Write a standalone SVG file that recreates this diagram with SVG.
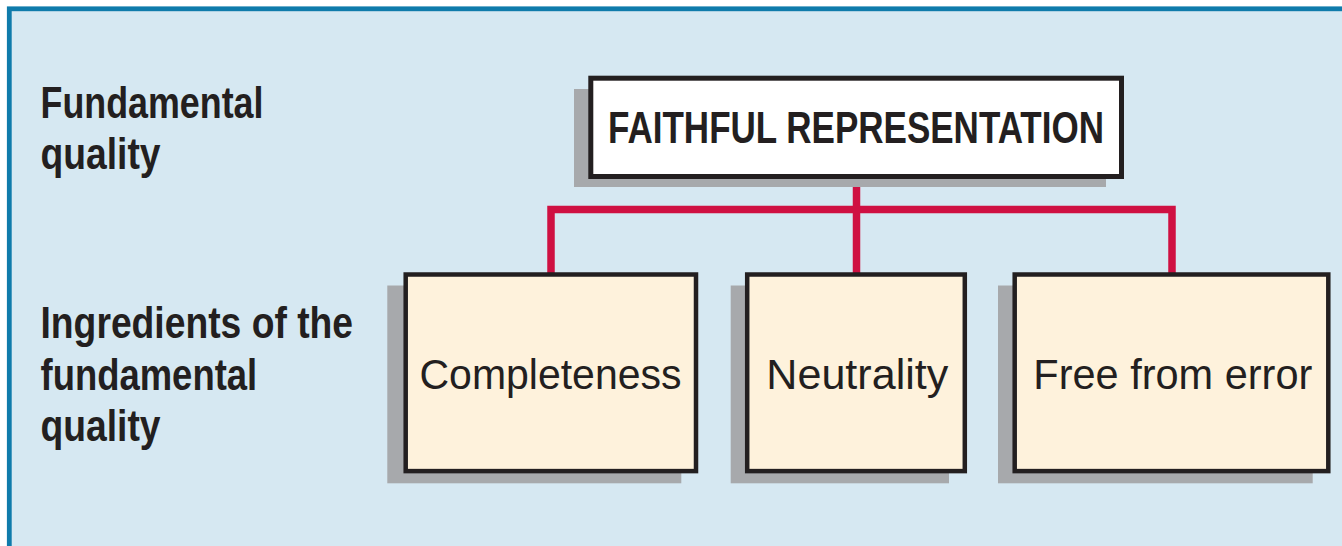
<svg xmlns="http://www.w3.org/2000/svg" width="1342" height="546" viewBox="0 0 1342 546">
  <style>
    .shadow { fill: #a7a9ac; }
    .box { fill: #fef2dc; stroke: #231f20; stroke-width: 4.5; }
    .topbox { fill: #ffffff; stroke: #231f20; stroke-width: 5; }
    .head { font-family: "Liberation Sans", Arial, sans-serif; font-weight: bold; font-size: 44px; fill: #231f20; }
    .lbl { font-family: "Liberation Sans", Arial, sans-serif; font-size: 43px; fill: #231f20; text-anchor: middle; }
    .conn { fill: none; stroke: #cf1042; stroke-width: 7.5; }
  </style>
  <rect x="0" y="0" width="1342" height="546" fill="#ffffff"/>
  <rect id="frame" x="9.3" y="8.8" width="1345" height="550" fill="#d6e8f2" stroke="#0f7bab" stroke-width="4.8"/>

  <g id="side-labels">
    <text class="head" x="40.5" y="118.3" textLength="223" lengthAdjust="spacingAndGlyphs">Fundamental</text>
    <text class="head" x="40.5" y="168.5" textLength="120" lengthAdjust="spacingAndGlyphs">quality</text>
    <text class="head" x="40.5" y="338.3" textLength="312.6" lengthAdjust="spacingAndGlyphs">Ingredients of the</text>
    <text class="head" x="40.5" y="389.5" textLength="216.7" lengthAdjust="spacingAndGlyphs">fundamental</text>
    <text class="head" x="40.5" y="441" textLength="120" lengthAdjust="spacingAndGlyphs">quality</text>
  </g>

  <g id="connectors">
    <path class="conn" d="M551 276 V209.5 H1172 V276"/>
    <path class="conn" d="M856.5 176 V276"/>
  </g>

  <g id="faithful-representation">
    <rect class="shadow" x="574" y="89" width="532" height="98"/>
    <rect class="topbox" x="590.8" y="78.2" width="530.7" height="98.3"/>
    <text class="head" x="856" y="143.3" text-anchor="middle" textLength="496" lengthAdjust="spacingAndGlyphs">FAITHFUL REPRESENTATION</text>
  </g>

  <g id="completeness">
    <rect class="shadow" x="387.3" y="285.5" width="294" height="197.8"/>
    <rect class="box" x="405.7" y="274.5" width="290.3" height="196.6"/>
    <text class="lbl" x="550.5" y="389" textLength="262" lengthAdjust="spacingAndGlyphs">Completeness</text>
  </g>

  <g id="neutrality">
    <rect class="shadow" x="730.7" y="285.5" width="218.3" height="197.8"/>
    <rect class="box" x="747.2" y="274.5" width="217.6" height="196.6"/>
    <text class="lbl" x="857.3" y="389" textLength="182" lengthAdjust="spacingAndGlyphs">Neutrality</text>
  </g>

  <g id="free-from-error">
    <rect class="shadow" x="998" y="285.5" width="314.7" height="197.8"/>
    <rect class="box" x="1014.7" y="274.5" width="313.6" height="196.6"/>
    <text class="lbl" x="1172.8" y="389" textLength="279" lengthAdjust="spacingAndGlyphs">Free from error</text>
  </g>
</svg>
